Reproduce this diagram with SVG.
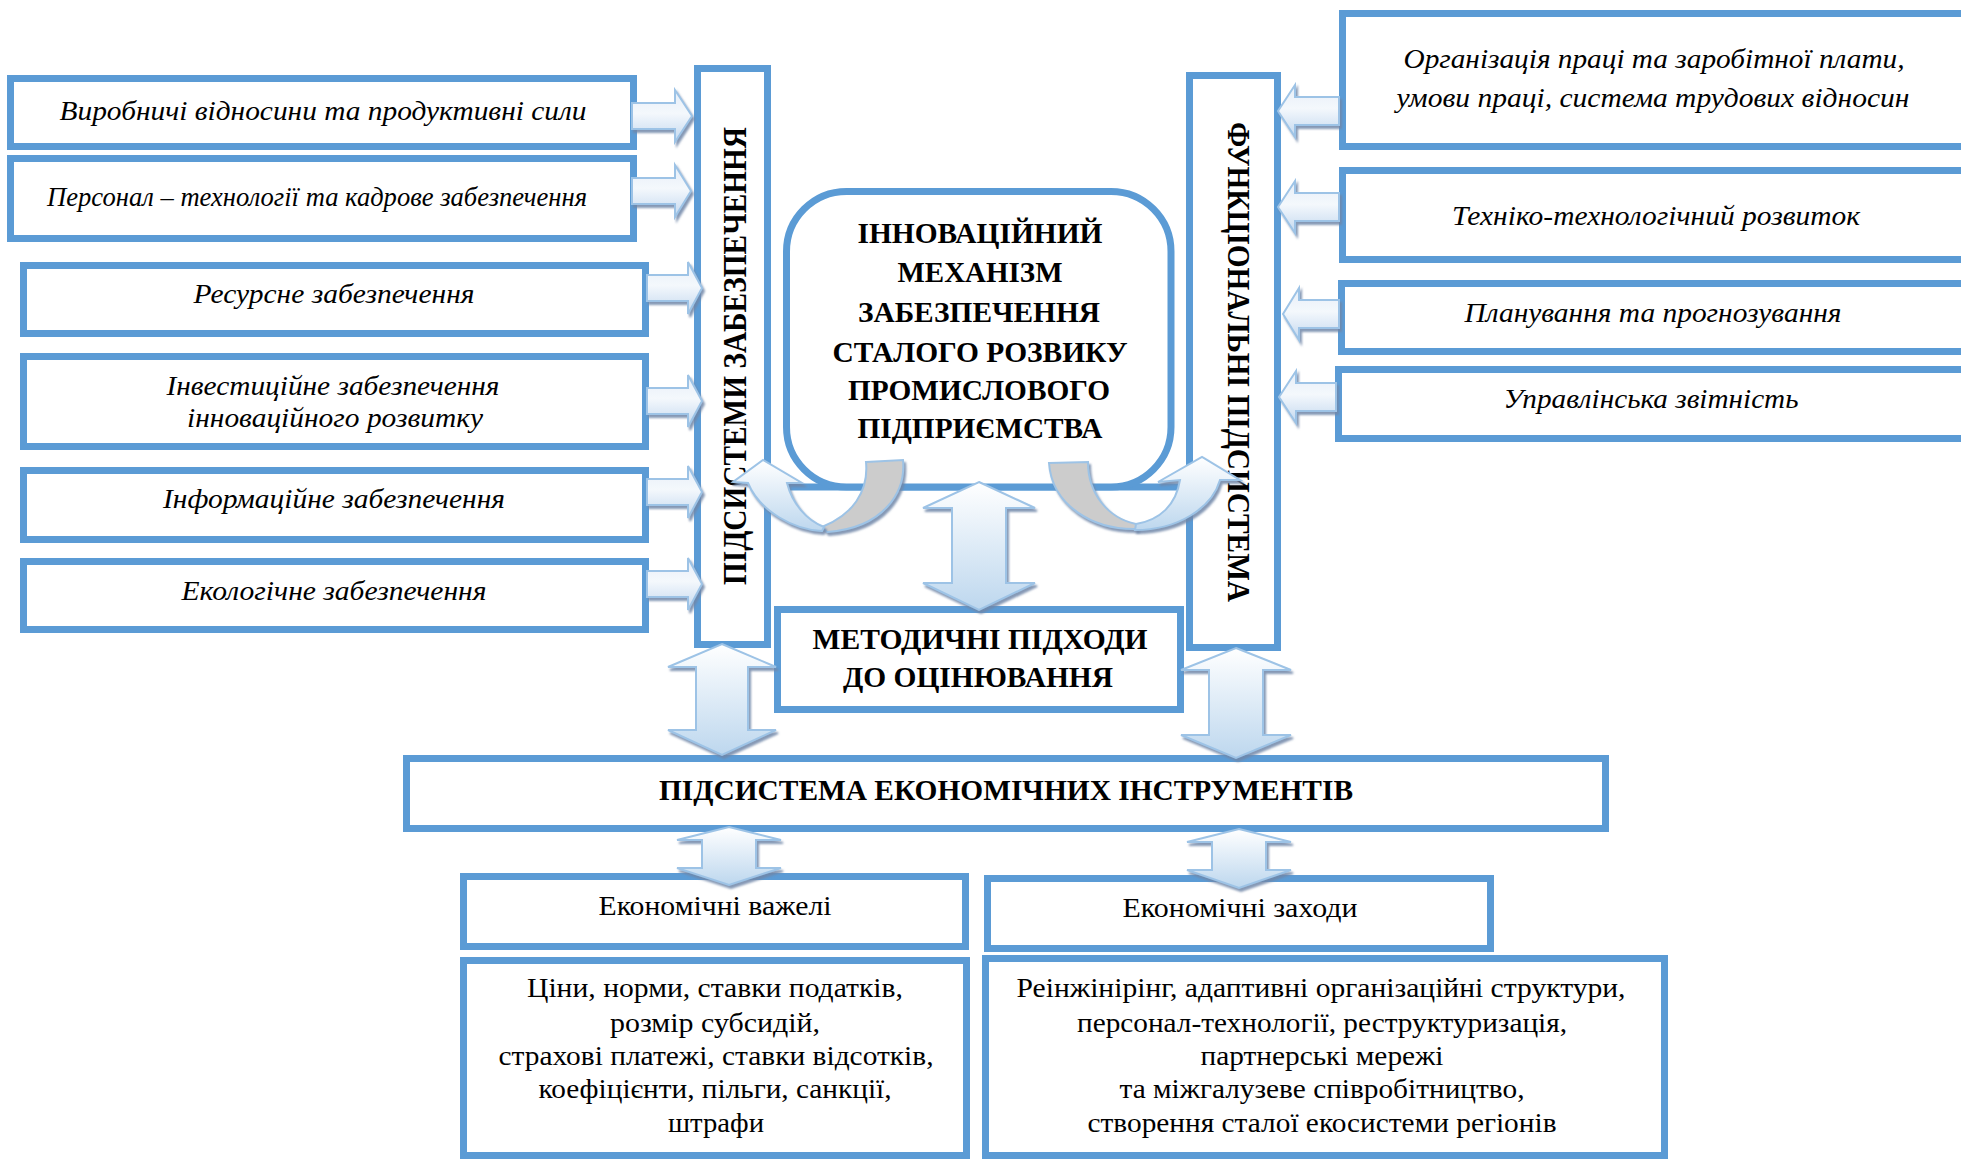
<svg xmlns="http://www.w3.org/2000/svg" width="1961" height="1159" viewBox="0 0 1961 1159">
<defs>
<linearGradient id="vg" x1="0" y1="0" x2="0" y2="1">
<stop offset="0" stop-color="#FFFFFF"/>
<stop offset="1" stop-color="#BDD7EE"/>
</linearGradient>
<linearGradient id="hg" x1="0" y1="0" x2="0" y2="1">
<stop offset="0" stop-color="#E6EEF8"/>
<stop offset="0.45" stop-color="#F4F8FC"/>
<stop offset="1" stop-color="#C3D8EF"/>
</linearGradient>
<filter id="sh" x="-20%" y="-20%" width="150%" height="150%">
<feDropShadow dx="2" dy="3" stdDeviation="0.8" flood-color="#6F86A8" flood-opacity="0.85"/>
</filter>
<style>
.box{fill:#FFFFFF;stroke:#5B9BD5;stroke-width:7}
.ln{fill:none;stroke:#5B9BD5;stroke-width:7}
.it{font-family:"Liberation Serif","Times New Roman",serif;font-style:italic;font-size:28px;fill:#000;text-anchor:middle}
.rg{font-family:"Liberation Serif","Times New Roman",serif;font-size:28px;fill:#000;text-anchor:middle}
.bd{font-family:"Liberation Serif","Times New Roman",serif;font-weight:bold;font-size:29px;fill:#000;text-anchor:middle}
.ha{fill:url(#hg);stroke:#9DC3E6;stroke-width:2;filter:url(#sh)}
.va{fill:url(#vg);stroke:#9DC3E6;stroke-width:2;filter:url(#sh)}
.cb{fill:url(#vg);stroke:#9DC3E6;stroke-width:2;filter:url(#sh)}
.cgray{fill:#CCCCCC;stroke:#9DC3E6;stroke-width:2;filter:url(#sh)}
</style>
</defs>
<rect width="1961" height="1159" fill="#FFFFFF"/>

<!-- left input boxes -->
<g id="l1"><rect class="box" x="10.5" y="78.5" width="623" height="68"/>
<text class="it" x="323" y="120" textLength="527" lengthAdjust="spacingAndGlyphs">Виробничі відносини та продуктивні сили</text></g>
<g id="l2"><rect class="box" x="10.5" y="158.5" width="623" height="80"/>
<text class="it" x="317" y="206" textLength="540" lengthAdjust="spacingAndGlyphs">Персонал – технології та кадрове забезпечення</text></g>
<g id="l3"><rect class="box" x="23.5" y="265.5" width="622" height="68"/>
<text class="it" x="334" y="303" textLength="281" lengthAdjust="spacingAndGlyphs">Ресурсне забезпечення</text></g>
<g id="l4"><rect class="box" x="23.5" y="356.5" width="622" height="90"/>
<text class="it" x="333" y="395" textLength="333" lengthAdjust="spacingAndGlyphs">Інвестиційне забезпечення</text>
<text class="it" x="335" y="427" textLength="296" lengthAdjust="spacingAndGlyphs">інноваційного розвитку</text></g>
<g id="l5"><rect class="box" x="23.5" y="470.5" width="622" height="69"/>
<text class="it" x="334" y="508" textLength="342" lengthAdjust="spacingAndGlyphs">Інформаційне забезпечення</text></g>
<g id="l6"><rect class="box" x="23.5" y="561.5" width="622" height="68"/>
<text class="it" x="334" y="600" textLength="305" lengthAdjust="spacingAndGlyphs">Екологічне забезпечення</text></g>

<!-- left bar -->
<g id="bar-left"><rect class="box" x="697.5" y="68.5" width="70" height="576"/>
<text class="bd" style="font-size:34px" transform="translate(746,356) rotate(-90)" x="0" y="0" textLength="458" lengthAdjust="spacingAndGlyphs">ПІДСИСТЕМИ ЗАБЕЗПЕЧЕННЯ</text></g>

<!-- right bar -->
<g id="bar-right"><rect class="box" x="1189.5" y="75.5" width="88" height="572"/>
<text class="bd" style="font-size:32px" transform="translate(1228,362) rotate(90)" x="0" y="0" textLength="480" lengthAdjust="spacingAndGlyphs">ФУНКЦІОНАЛЬНІ ПІДСИСТЕМА</text></g>

<!-- right input boxes -->
<g id="r1"><rect class="box" x="1342.5" y="13.5" width="640" height="133"/>
<text class="it" x="1654" y="68" textLength="501" lengthAdjust="spacingAndGlyphs">Організація праці та заробітної плати,</text>
<text class="it" x="1653" y="107" textLength="513" lengthAdjust="spacingAndGlyphs">умови праці, система трудових відносин</text></g>
<g id="r2"><rect class="box" x="1342.5" y="170.5" width="640" height="89"/>
<text class="it" x="1656" y="225" textLength="408" lengthAdjust="spacingAndGlyphs">Техніко-технологічний розвиток</text></g>
<g id="r3"><rect class="box" x="1341.5" y="283.5" width="640" height="68"/>
<text class="it" x="1653" y="322" textLength="377" lengthAdjust="spacingAndGlyphs">Планування та прогнозування</text></g>
<g id="r4"><rect class="box" x="1338.5" y="369.5" width="640" height="69"/>
<text class="it" x="1651" y="408" textLength="295" lengthAdjust="spacingAndGlyphs">Управлінська звітність</text></g>

<!-- central mechanism -->
<g id="core">
<line class="ln" x1="771" y1="487" x2="1187" y2="487"/>
<rect class="box" x="786.5" y="191.5" width="384.5" height="295.5" rx="60" ry="60"/>
<text class="bd" x="980" y="243" textLength="245" lengthAdjust="spacingAndGlyphs">ІННОВАЦІЙНИЙ</text>
<text class="bd" x="980" y="282" textLength="165" lengthAdjust="spacingAndGlyphs">МЕХАНІЗМ</text>
<text class="bd" x="979" y="322" textLength="242" lengthAdjust="spacingAndGlyphs">ЗАБЕЗПЕЧЕННЯ</text>
<text class="bd" x="980" y="362" textLength="295" lengthAdjust="spacingAndGlyphs">СТАЛОГО РОЗВИКУ</text>
<text class="bd" x="979" y="400" textLength="262" lengthAdjust="spacingAndGlyphs">ПРОМИСЛОВОГО</text>
<text class="bd" x="980" y="438" textLength="245" lengthAdjust="spacingAndGlyphs">ПІДПРИЄМСТВА</text>
</g>

<!-- methodical approaches -->
<g id="methods"><rect class="box" x="777.5" y="609.5" width="403" height="100"/>
<text class="bd" x="980" y="649" textLength="335" lengthAdjust="spacingAndGlyphs">МЕТОДИЧНІ ПІДХОДИ</text>
<text class="bd" x="978" y="687" textLength="270" lengthAdjust="spacingAndGlyphs">ДО ОЦІНЮВАННЯ</text></g>

<!-- economic instruments -->
<g id="econ"><rect class="box" x="406.5" y="758.5" width="1199" height="70"/>
<text class="bd" x="1006" y="800" textLength="694" lengthAdjust="spacingAndGlyphs">ПІДСИСТЕМА ЕКОНОМІЧНИХ ІНСТРУМЕНТІВ</text></g>

<g id="levers"><rect class="box" x="463.5" y="876.5" width="502" height="70"/>
<text class="rg" x="715" y="915" textLength="233" lengthAdjust="spacingAndGlyphs">Економічні важелі</text></g>
<g id="measures"><rect class="box" x="987.5" y="878.5" width="503" height="70"/>
<text class="rg" x="1240" y="917" textLength="235" lengthAdjust="spacingAndGlyphs">Економічні заходи</text></g>

<g id="levers-list"><rect class="box" x="463.5" y="960.5" width="503" height="195"/>
<text class="rg" x="715" y="997" textLength="376" lengthAdjust="spacingAndGlyphs">Ціни, норми, ставки податків,</text>
<text class="rg" x="715" y="1032" textLength="210" lengthAdjust="spacingAndGlyphs">розмір субсидій,</text>
<text class="rg" x="716" y="1065" textLength="435" lengthAdjust="spacingAndGlyphs">страхові платежі, ставки відсотків,</text>
<text class="rg" x="715" y="1098" textLength="353" lengthAdjust="spacingAndGlyphs">коефіцієнти, пільги, санкції,</text>
<text class="rg" x="716" y="1132" textLength="96" lengthAdjust="spacingAndGlyphs">штрафи</text></g>
<g id="measures-list"><rect class="box" x="985.5" y="958.5" width="679" height="197"/>
<text class="rg" x="1321" y="997" textLength="609" lengthAdjust="spacingAndGlyphs">Реінжінірінг, адаптивні організаційні структури,</text>
<text class="rg" x="1322" y="1032" textLength="490" lengthAdjust="spacingAndGlyphs">персонал-технології, реструктуризація,</text>
<text class="rg" x="1322" y="1065" textLength="243" lengthAdjust="spacingAndGlyphs">партнерські мережі</text>
<text class="rg" x="1322" y="1098" textLength="405" lengthAdjust="spacingAndGlyphs">та міжгалузеве співробітництво,</text>
<text class="rg" x="1322" y="1132" textLength="469" lengthAdjust="spacingAndGlyphs">створення сталої екосистеми регіонів</text></g>

<!-- connectors -->
<g id="connectors">
<!-- left inputs to left bar -->
<path class="ha" d="M632,103 L675,103 L675,90 L692,116 L675,142 L675,129 L632,129 Z"/>
<path class="ha" d="M632,178 L675,178 L675,165 L691,191 L675,217 L675,204 L632,204 Z"/>
<path class="ha" d="M647,275 L688,275 L688,262 L702,288 L688,314 L688,301 L647,301 Z"/>
<path class="ha" d="M647,388 L688,388 L688,375 L702,401 L688,427 L688,414 L647,414 Z"/>
<path class="ha" d="M647,479 L688,479 L688,466 L702,492 L688,518 L688,505 L647,505 Z"/>
<path class="ha" d="M647,571 L688,571 L688,558 L702,584 L688,610 L688,597 L647,597 Z"/>
<!-- right inputs to right bar -->
<path class="ha" d="M1339,97 L1295,97 L1295,85 L1278,111 L1295,137 L1295,125 L1339,125 Z"/>
<path class="ha" d="M1339,193 L1295,193 L1295,181 L1278,207 L1295,233 L1295,221 L1339,221 Z"/>
<path class="ha" d="M1339,300 L1299,300 L1299,288 L1283,314 L1299,340 L1299,328 L1339,328 Z"/>
<path class="ha" d="M1336,383 L1296,383 L1296,371 L1279,397 L1296,423 L1296,411 L1336,411 Z"/>
<!-- curved arrows -->
<path class="cgray" d="M866,462 L903,460 C906,492 884,528 827,532 L822,527 C852,515 869,492 866,462 Z"/>
<path class="cb" d="M822,531 C795,530 760,512 748,483 L733,482 L763,460 L802,483 L787,483 C792,503 806,520 824,527 Z"/>
<path class="cgray" d="M1049,463 L1088,462 C1088,494 1108,518 1136,524 L1137,529 C1092,530 1052,505 1049,463 Z"/>
<path class="cb" d="M1135,530 C1178,530 1212,508 1220,480 L1240,480 L1202,457 L1158,482 L1180,480 C1176,505 1160,520 1136,524 Z"/>
<!-- vertical double arrows -->
<path class="va" d="M979,482 L1035,508 L1006,508 L1006,583 L1035,583 L979,610 L923,583 L952,583 L952,508 L923,508 Z"/>
<path class="va" d="M722,644 L776,667 L748,667 L748,730 L776,730 L722,755 L668,730 L696,730 L696,667 L668,667 Z"/>
<path class="va" d="M1236,648 L1291,670 L1263,670 L1263,735 L1291,735 L1236,758 L1181,735 L1209,735 L1209,670 L1181,670 Z"/>
<path class="va" d="M729,827 L781,840 L756,840 L756,868 L781,868 L729,885 L677,868 L702,868 L702,840 L677,840 Z"/>
<path class="va" d="M1239,829 L1291,842 L1266,842 L1266,870 L1291,870 L1239,888 L1187,870 L1212,870 L1212,842 L1187,842 Z"/>
</g>
</svg>
